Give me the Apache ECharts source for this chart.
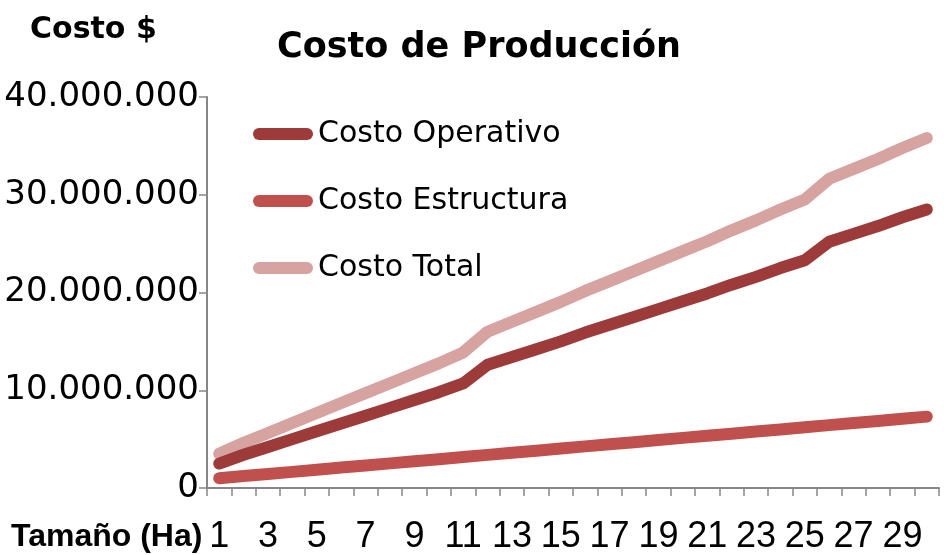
<!DOCTYPE html>
<html>
<head>
<meta charset="utf-8">
<script src="https://cdn.jsdelivr.net/npm/echarts@6/dist/echarts.min.js"></script>
<style>
  html, body { margin: 0; padding: 0; background: #fff; }
  #chart { width: 944px; height: 555px; }
</style>
</head>
<body>
<div id="chart"></div>
<script>
// Costo de Producción
const CATEGORIES = [1,2,3,4,5,6,7,8,9,10,11,12,13,14,15,16,17,18,19,20,21,22,23,24,25,26,27,28,29,30].map(String);

const COSTO_OPERATIVO = [
  2500000, 3400000, 4200000, 5000000, 5800000, 6600000, 7400000, 8200000, 9000000, 9800000,
  10700000, 12600000, 13400000, 14200000, 15000000, 15900000, 16700000, 17500000, 18300000, 19100000,
  19900000, 20800000, 21600000, 22500000, 23300000, 25200000, 26000000, 26800000, 27700000, 28500000
];
const COSTO_ESTRUCTURA = [
  1000000, 1220000, 1430000, 1650000, 1870000, 2090000, 2300000, 2520000, 2740000, 2950000,
  3170000, 3390000, 3610000, 3820000, 4040000, 4260000, 4470000, 4690000, 4910000, 5130000,
  5340000, 5560000, 5780000, 5990000, 6210000, 6430000, 6650000, 6860000, 7080000, 7300000
];
const COSTO_TOTAL = [
  3500000, 4620000, 5630000, 6650000, 7670000, 8690000, 9700000, 10720000, 11740000, 12750000,
  13870000, 15990000, 17010000, 18020000, 19040000, 20160000, 21170000, 22190000, 23210000, 24230000,
  25240000, 26360000, 27380000, 28490000, 29510000, 31630000, 32650000, 33660000, 34780000, 35800000
];
const Y_TICKS = [0, 10000000, 20000000, 30000000, 40000000];

const FONT = "DejaVu Sans";
const FONT_NARROW = "Liberation Sans";
const AXIS_GRAY = "#868686";

// 40000000 -> "40.000.000"
function fmtMiles(v) {
  return String(v).replace(/\B(?=(\d{3})+(?!\d))/g, ".");
}

const chart = echarts.init(document.getElementById("chart"));
const pill = "path://M6,0 L54,0 A6,6 0 0 1 54,12 L6,12 A6,6 0 0 1 6,0 Z";

function lineSeries(name, data, color) {
  return {
    name: name,
    type: "line",
    data: data,
    symbol: "none",
    smooth: false,
    lineStyle: {color: color, width: 12, cap: "round", join: "round"},
    itemStyle: {color: color},
    emphasis: {disabled: true},
  };
}

chart.setOption({
  animation: false,
  title: {
    text: "Costo de Producción",
    left: 272,
    top: 25,
    textStyle: {fontFamily: FONT, fontSize: 35, fontWeight: "bold", color: "#000"},
  },
  graphic: [
    {type: "text", left: 30, top: 15,
     style: {text: "Costo $", fontFamily: FONT, fontSize: 30, fontWeight: "bold", fill: "#000"}},
    {type: "text", left: 11, top: 521,
     style: {text: "Tamaño (Ha)", fontFamily: FONT_NARROW, fontSize: 32, fontWeight: "bold", fill: "#000"}},
  ],
  legend: {
    orient: "vertical",
    left: 248,
    top: 114,
    itemWidth: 60,
    itemHeight: 12,
    itemGap: 37,
    icon: pill,
    data: ["Costo Operativo", "Costo Estructura", "Costo Total"],
    textStyle: {fontFamily: FONT, fontSize: 30, color: "#000"},
  },
  grid: {left: 207, right: 5, top: 97, bottom: 63, containLabel: false},
  xAxis: {
    type: "category",
    data: CATEGORIES,
    boundaryGap: true,
    axisLine: {lineStyle: {color: AXIS_GRAY, width: 2}},
    axisTick: {show: true, interval: 0, length: 8, lineStyle: {color: AXIS_GRAY, width: 1.5}},
    axisLabel: {interval: 1, margin: 31, fontFamily: FONT_NARROW, fontSize: 36, color: "#000"},
    splitLine: {show: false},
  },
  yAxis: {
    type: "value",
    min: Y_TICKS[0],
    max: Y_TICKS[Y_TICKS.length - 1],
    interval: Y_TICKS[1] - Y_TICKS[0],
    axisLine: {show: true, lineStyle: {color: AXIS_GRAY, width: 2}},
    axisTick: {show: true, length: 8, lineStyle: {color: AXIS_GRAY, width: 1.5}},
    axisLabel: {margin: 8, fontFamily: FONT, fontSize: 34, color: "#000", formatter: v => fmtMiles(v)},
    splitLine: {show: false},
  },
  series: [
    lineSeries("Costo Total", COSTO_TOTAL, "#D6A3A0"),
    lineSeries("Costo Estructura", COSTO_ESTRUCTURA, "#C0504D"),
    lineSeries("Costo Operativo", COSTO_OPERATIVO, "#9C3B39"),
  ],
});
</script>
</body>
</html>
